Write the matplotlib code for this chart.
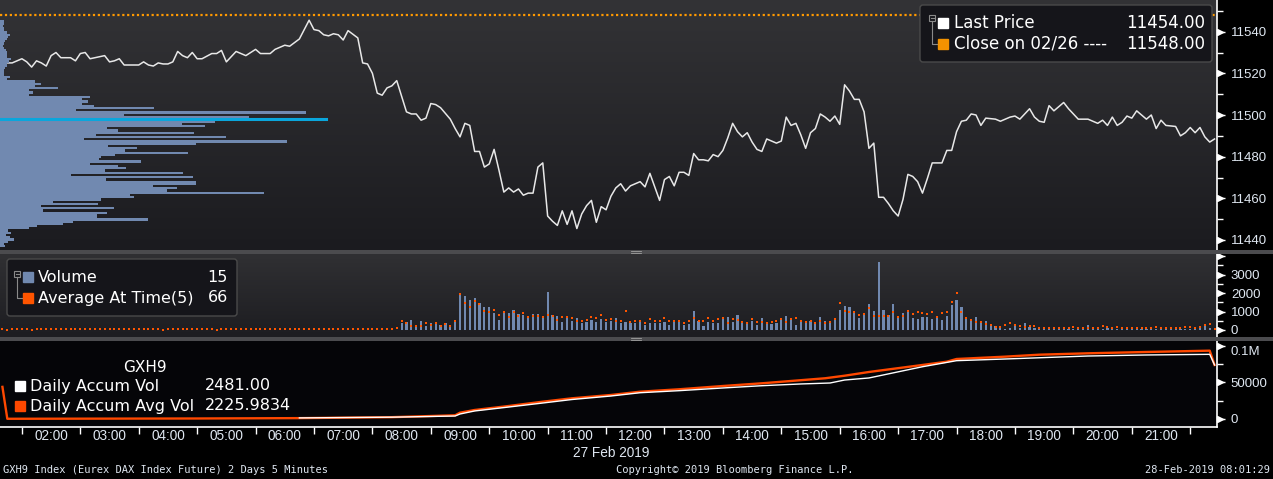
import numpy as np
import matplotlib
matplotlib.use('Agg')
import matplotlib.pyplot as plt
import matplotlib.transforms as mtransforms
from matplotlib.colors import LinearSegmentedColormap
from matplotlib.patches import FancyBboxPatch, Rectangle
from matplotlib.lines import Line2D

W, H = 1273, 479
NARROW = ['Liberation Sans', 'DejaVu Sans']

# 5 minute bars, bar 0 = 01:10 (27 Feb 2019), 250 bars to 21:55
start_min = 70
n_bars = 250

price_bar = [0, 1, 2, 4, 5, 6, 7, 8, 9, 10, 11, 12, 14, 15, 16, 17, 18, 19, 21, 22,
             23, 24, 25, 28, 29, 30, 31, 32, 33, 34, 35, 36, 37, 38, 39, 40, 41, 43, 44, 45,
             46, 48, 49, 50, 52, 53, 55, 56, 58, 59, 61, 63, 64, 65, 66, 67, 68, 69, 70, 71,
             73, 74, 75, 76, 77, 78, 79, 80, 81, 83, 84, 85, 86, 87, 88, 89, 90, 92, 93, 94,
             95, 96, 97, 98, 99, 100, 101, 102, 103, 104, 105, 106, 107, 108, 109, 110, 111, 112, 113, 114,
             115, 116, 117, 118, 119, 120, 121, 122, 123, 124, 125, 126, 127, 128, 129, 130, 131, 132, 133, 134,
             135, 136, 137, 138, 139, 140, 141, 142, 143, 144, 145, 146, 147, 148, 149, 150, 151, 152, 153, 154,
             155, 156, 157, 158, 159, 160, 161, 162, 163, 164, 165, 166, 167, 168, 169, 170, 171, 172, 173, 174,
             175, 176, 177, 178, 179, 180, 181, 182, 183, 184, 185, 186, 187, 188, 189, 190, 191, 193, 194, 195,
             196, 197, 198, 199, 200, 201, 202, 204, 205, 207, 208, 209, 211, 212, 213, 214, 215, 216, 218, 219,
             220, 221, 222, 223, 224, 225, 226, 227, 228, 229, 230, 231, 232, 233, 234, 235, 236, 237, 238, 239,
             241, 242, 243, 244, 245, 246, 247, 248, 249]
price_val = [11529, 11525, 11525, 11527, 11525.5, 11523, 11526, 11525, 11523.5, 11528.5,
             11530, 11527.5, 11527.5, 11526, 11529.5, 11530, 11527, 11527.5, 11528.5, 11525.5,
             11526, 11527, 11524, 11524, 11525.5, 11524, 11523.5, 11525, 11524.5, 11524.5,
             11525.5, 11530.5, 11528.5, 11527.5, 11530, 11527, 11527, 11529.5, 11529.5, 11531,
             11525.5, 11530.5, 11529.5, 11528.5, 11531.5, 11529.5, 11529.5, 11531.5, 11533.5, 11533,
             11536.5, 11545.5, 11541, 11540.5, 11538.5, 11538, 11539, 11538.5, 11536, 11540.5,
             11537, 11525, 11524.5, 11520, 11510.5, 11509.5, 11513, 11514, 11516.5, 11501.5,
             11500.5, 11500.5, 11497.5, 11498.5, 11505.5, 11505, 11503.5, 11498, 11493.5, 11489.5,
             11496, 11495, 11482.5, 11482.5, 11475, 11476.5, 11483.5, 11473.5, 11463, 11465,
             11463, 11464.5, 11461.5, 11462.5, 11462.5, 11475, 11477, 11451.5, 11449, 11447,
             11454, 11447.5, 11454, 11445.5, 11452.5, 11456.5, 11459, 11448.5, 11456, 11454.5,
             11461, 11465, 11467, 11463.5, 11466, 11467, 11468, 11465.5, 11472, 11465.5,
             11459, 11469, 11470.5, 11466, 11472.5, 11472.5, 11471, 11481.5, 11478.5, 11478.5,
             11478, 11481, 11480, 11483, 11489, 11496, 11492, 11489.5, 11491.5, 11487,
             11483.5, 11482.5, 11488.5, 11487.5, 11486.5, 11487.5, 11499, 11495, 11496, 11490.5,
             11484, 11491.5, 11493.5, 11500.5, 11499, 11497, 11499.5, 11495.5, 11514.5, 11511.5,
             11507.5, 11507.5, 11501.5, 11484, 11486.5, 11460.5, 11460.5, 11457.5, 11454, 11451.5,
             11459.5, 11471.5, 11470.5, 11468, 11462.5, 11469.5, 11477, 11477, 11483, 11483,
             11492, 11497, 11497.5, 11500.5, 11500, 11495, 11498.5, 11498, 11497, 11499,
             11499.5, 11498, 11503, 11499, 11497, 11496.5, 11504.5, 11502, 11506, 11503,
             11500.5, 11498, 11498, 11498, 11497, 11496, 11497.5, 11495, 11499, 11495,
             11496.5, 11499.5, 11498.5, 11502, 11500, 11498, 11500, 11493.5, 11497.5, 11495,
             11494.5, 11490, 11491.5, 11494, 11491.5, 11494, 11489.5, 11487, 11488.5]
close_prev = 11548.0
last_price = 11454.0

# volume at price profile, top row to bottom row
prof_hi, prof_lo = 11545.5, 11436.5
prof_vol = [12, 12, 10, 12, 12, 22, 30, 25, 20, 15, 12, 10, 12, 18, 22, 22, 20, 32, 27, 22,
            20, 15, 12, 12, 12, 30, 20,
            105, 122, 105, 173, 87, 98, 87, 270, 245, 263, 245, 282, 461, 228, 917, 372, 748, 748,
            645, 546, 614, 321, 353, 581, 288, 677, 252, 860, 587, 324, 410, 375, 563, 345, 303, 297,
            422, 270, 353, 377, 315, 548, 213, 578, 318, 587, 587, 459, 530, 500, 791, 390, 401, 303,
            159, 293, 123, 341, 129, 320, 290, 291, 443, 218, 189, 111, 87, 24, 33, 18, 30, 43, 25,
            12, 15]
poc_price = 11498.0
poc_len = 977

# volume bars start at 07:55 (bar 82)
vol_first_bar = 82
volume = [400, 450, 540, 270, 490, 220, 400, 360, 270, 400,
          270, 540, 1980, 1840, 1620, 1750, 1480, 1260, 1220, 900,
          540, 940, 940, 1080, 860, 810, 630, 860, 850, 720,
          2050, 810, 760, 450, 630, 500, 630, 400, 450, 540,
          450, 580, 450, 500, 630, 360, 450, 360, 360, 450,
          270, 400, 360, 400, 450, 270, 500, 500, 270, 320,
          1030, 500, 220, 450, 400, 400, 630, 720, 450, 810,
          490, 400, 500, 270, 630, 450, 320, 360, 580, 760,
          580, 270, 540, 500, 500, 360, 720, 500, 400, 580,
          1080, 1300, 1220, 940, 630, 900, 1400, 1030, 3670, 1080,
          810, 1400, 760, 900, 1080, 630, 580, 680, 720, 580,
          760, 540, 760, 1350, 1620, 1260, 670, 540, 680, 450,
          490, 220, 220, 130, 70, 130, 220, 130, 360, 180,
          90, 70, 70, 180, 70, 70, 180, 70, 70, 70,
          70, 250, 70, 70, 70, 130, 70, 70, 130, 70,
          70, 70, 70, 70, 130, 70, 70, 70, 70, 130,
          70, 70, 70, 70, 130, 220, 130, 15]
avg_at_time = [40, 20, 50, 30, 30, 40, 20, 40, 30, 30,
               50, 40, 30, 40, 50, 50, 70, 40, 30, 50,
               40, 40, 30, 40, 30, 30, 30, 40, 50, 40,
               50, 40, 30, 20, 40, 30, 40, 30, 30, 50,
               40, 30, 40, 30, 20, 30, 30, 30, 30, 30,
               30, 30, 30, 30, 30, 30, 40, 40, 30, 40,
               40, 30, 40, 30, 30, 40, 40, 30, 40, 30,
               40, 50, 40, 60, 40, 50, 50, 60, 60, 70,
               80, 90,
               500, 360, 220, 220, 220, 360, 270, 360, 220, 320,
               220, 500, 1940, 1440, 1220, 1580, 1390, 1040, 970, 1080,
               790, 970, 720, 970, 760, 900, 680, 760, 770, 720,
               810, 770, 540, 680, 680, 630, 500, 500, 540, 720,
               630, 810, 540, 580, 490, 490, 1030, 450, 500, 500,
               400, 580, 490, 490, 630, 500, 500, 500, 360, 490,
               630, 500, 500, 630, 490, 580, 630, 360, 580, 540,
               450, 360, 580, 450, 450, 400, 450, 490, 580, 450,
               580, 630, 500, 450, 500, 360, 500, 400, 450, 580,
               1480, 1040, 970, 970, 810, 860, 1170, 760, 760, 760,
               760, 970, 720, 760, 1040, 850, 970, 940, 850, 950,
               720, 940, 970, 1530, 2020, 970, 630, 540, 450, 450,
               320, 270, 180, 180, 270, 400, 270, 220, 180, 230,
               220, 130, 130, 130, 90, 130, 90, 130, 180, 130,
               130, 130, 130, 130, 220, 180, 130, 180, 130, 130,
               130, 130, 90, 130, 130, 180, 130, 90, 90, 90,
               90, 180, 180, 90, 180, 250, 320, 66]

accum_bar = [61, 80, 93, 94, 97, 104, 111, 117, 125, 131, 139, 148, 156, 164, 170, 173,
             178, 189, 196, 206, 223, 235, 248, 249]
accum_vol = [1500, 2500, 4100, 6850, 11000, 16400, 21900, 26700, 31500, 36000, 38800, 42500,
             45600, 48000, 49300, 53400, 56200, 71600, 79900, 82200, 86300, 87700, 88600, 74000]
accum_avg_bar = [0, 1, 40, 61, 80, 93, 94, 97, 104, 111, 117, 125, 131, 139, 148, 156, 169,
                 173, 178, 189, 194, 196, 206, 213, 223, 235, 248, 249]
accum_avg = [44000, 300, 700, 1200, 2500, 5070, 8630, 12330, 17800, 23700, 28360, 32900,
             37400, 40700, 45200, 48900, 55800, 59300, 64400, 74000, 78500, 82200, 85400,
             88100, 90000, 91800, 93600, 74000]

hours = list(range(2, 22))

C_TICK = '#dfe7f1'
C_BAR = '#7189b0'
C_RED = '#ff5500'

fig = plt.figure(figsize=(W / 100, H / 100), dpi=100, facecolor='black')
T = mtransforms.Affine2D().scale(1, -1).translate(0, H)  # pixel coords, top-left origin


def pax(x0, y0, x1, y1):
    return fig.add_axes([x0 / W, 1 - y1 / H, (x1 - x0) / W, (y1 - y0) / H])


def gradient(ax, top, bottom):
    cmap = LinearSegmentedColormap.from_list('bg', [top, bottom])
    ax.imshow(np.linspace(0, 1, 256).reshape(-1, 1), cmap=cmap, aspect='auto',
              extent=[0, 1, 0, 1], transform=ax.transAxes, origin='upper', zorder=0)


def style_y(ax, major, labels, minor, size=9.5):
    ax.yaxis.tick_right()
    ax.set_yticks(major)
    ax.set_yticklabels(labels, family=NARROW, fontsize=size, color=C_TICK)
    ax.set_yticks(minor, minor=True)
    ax.tick_params(axis='y', which='major', length=6, width=1, color='white', pad=4)
    ax.tick_params(axis='y', which='minor', length=4, width=1, color='white')
    tr = mtransforms.blended_transform_factory(ax.transAxes, ax.transData)
    ax.plot([1.0025] * len(major), major, ls='none', marker='>', ms=4.5, color='white',
            transform=tr, clip_on=False, zorder=10)
    for s in ['top', 'left', 'bottom']:
        ax.spines[s].set_visible(False)
    ax.spines['right'].set_color('white')
    ax.spines['right'].set_linewidth(1.2)


# ---- price panel
ax_p = pax(0, 0, 1217, 250)
gradient(ax_p, '#333336', '#1b1b1f')
ax_p.plot(price_bar, price_val, color='#e8e8e8', lw=1.1, zorder=5)
ax_p.axhline(close_prev, color='#ff9900', lw=1.6, ls=(0, (1, 1.2)), zorder=4)
ax_p.set_xlim(-0.5, n_bars - 0.5)
ax_p.set_ylim(11435.2, 11555.2)
style_y(ax_p, [11440, 11460, 11480, 11500, 11520, 11540],
        ['11440', '11460', '11480', '11500', '11520', '11540'],
        [11450, 11470, 11490, 11510, 11530, 11550])
ax_p.tick_params(axis='x', which='both', bottom=False, labelbottom=False)

ax_prof = ax_p.twiny()
step = (prof_hi - prof_lo) / len(prof_vol)
centers = prof_hi - step * (np.arange(len(prof_vol)) + 0.5)
ax_prof.barh(centers, prof_vol, height=step, color=C_BAR, lw=0, zorder=2)
ax_prof.plot([0, poc_len], [poc_price, poc_price], color='#0aa6dc', lw=2.2, zorder=3)
ax_prof.set_xlim(0, 1217 * 3)
ax_prof.set_ylim(11435.2, 11555.2)
ax_prof.axis('off')

# ---- volume panel
ax_v = pax(0, 254, 1217, 337)
gradient(ax_v, '#303033', '#1d1d21')
vol_x = np.arange(vol_first_bar, vol_first_bar + len(volume))
ax_v.bar(vol_x, volume, width=0.45, color=C_BAR, lw=0, zorder=3)
ax_v.plot(np.arange(len(avg_at_time)), avg_at_time, ls='none', marker='s', ms=2.0,
          mew=0, color=C_RED, zorder=4)
ax_v.set_xlim(-0.5, n_bars - 0.5)
ax_v.set_ylim(-380, 4120)
style_y(ax_v, [0, 1000, 2000, 3000, 4000], ['0', '1000', '2000', '3000', ''],
        [500, 1500, 2500, 3500])
ax_v.tick_params(axis='x', which='both', bottom=False, labelbottom=False)

# ---- accumulated volume panel
ax_a = pax(0, 341, 1217, 427)
ax_a.set_facecolor('#050508')
ax_a.plot(accum_avg_bar, accum_avg, color='#ff4800', lw=1.7, zorder=3)
ax_a.plot(accum_bar, accum_vol, color='white', lw=1.0, zorder=4)
ax_a.set_xlim(-0.5, n_bars - 0.5)
ax_a.set_ylim(-10960, 106850)
style_y(ax_a, [0, 50000, 100000], ['0', '50000', '0.1M'], [25000, 75000])
ax_a.yaxis.get_major_ticks()[-1].label2.set_verticalalignment('top')
ax_a.spines['bottom'].set_visible(True)
ax_a.spines['bottom'].set_color('white')
ax_a.spines['bottom'].set_linewidth(1.2)
hour_bar = [(h * 60 - start_min) / 5 for h in hours]
ax_a.set_xticks(hour_bar)
ax_a.set_xticklabels(['%02d:00' % h for h in hours], family=NARROW, fontsize=9.8, color=C_TICK)
ax_a.set_xticks([b - 6 for b in hour_bar] + [hour_bar[-1] + 6], minor=True)
ax_a.tick_params(axis='x', which='major', length=0, pad=1.5)
ax_a.tick_params(axis='x', which='minor', length=5, width=1, color='white')

# ---- separators
for y0 in (250, 337):
    fig.add_artist(Rectangle((0, y0), W, 4, transform=T, color='#4b4b4e', lw=0))
    for dy in (1.2, 2.8):
        fig.add_artist(Line2D([631, 641], [y0 + dy, y0 + dy], transform=T, color='#a0a0a0', lw=0.6))


def box(x0, y0, x1, y1):
    fig.add_artist(FancyBboxPatch((x0, y0), x1 - x0, y1 - y0, boxstyle='round,pad=0,rounding_size=3',
                                  transform=T, fc='#15151a', ec='#4a4a4a', lw=1, zorder=20))


def square(x, y, c):
    fig.add_artist(Rectangle((x, y - 5), 10, 10, transform=T, color=c, zorder=21))


def tree(x, y1, y2):
    fig.add_artist(Rectangle((x - 3, y1 - 3), 6, 6, transform=T, fc='none', ec='#8a8a8a', lw=0.8, zorder=21))
    fig.add_artist(Line2D([x - 1.5, x + 1.5], [y1, y1], transform=T, color='#8a8a8a', lw=0.8, zorder=21))
    fig.add_artist(Line2D([x, x, x + 5], [y1 + 3, y2, y2], transform=T, color='#8a8a8a', lw=0.8, zorder=21))


def txt(x, y, s, ha='left', size=12, family='DejaVu Sans', color='white'):
    fig.text(x, y, s, transform=T, ha=ha, va='center', fontsize=size, family=family, color=color, zorder=22)


# price legend
box(920, 5, 1212, 62)
tree(932, 18, 44)
square(938, 23, 'white')
square(938, 44, '#f39200')
txt(954, 23, 'Last Price', size=12)
txt(1205, 23, '%.2f' % last_price, ha='right', size=12)
txt(954, 44, 'Close on 02/26 ----', size=12)
txt(1205, 44, '%.2f' % close_prev, ha='right', size=12)

# volume legend
box(7, 259, 237, 316)
tree(17, 274, 298)
square(23, 277, C_BAR)
square(23, 298, C_RED)
txt(38, 277, 'Volume', size=11.5)
txt(228, 277, '%d' % volume[-1], ha='right', size=11.5)
txt(38, 298, 'Average At Time(5)', size=11.5)
txt(228, 298, '%d' % avg_at_time[-1], ha='right', size=11.5)

# accum legend
txt(145, 367, 'GXH9', ha='center', size=11)
square(15, 386, 'white')
square(15, 406, '#ff4800')
txt(30, 386, 'Daily Accum Vol', size=11.5)
txt(205, 386, '2481.00', size=11.5)
txt(30, 406, 'Daily Accum Avg Vol', size=11.5)
txt(205, 406, '2225.9834', size=11.5)

# footer
txt(611, 453, '27 Feb 2019', ha='center', size=9.8, family=NARROW, color=C_TICK)
txt(3, 470, 'GXH9 Index (Eurex DAX Index Future) 2 Days 5 Minutes', size=7.5, family='DejaVu Sans Mono', color=C_TICK)
txt(735, 470, 'Copyright\u00a9 2019 Bloomberg Finance L.P.', ha='center', size=7.5, family='DejaVu Sans Mono', color=C_TICK)
txt(1270, 470, '28-Feb-2019 08:01:29', ha='right', size=7.5, family='DejaVu Sans Mono', color=C_TICK)

fig.savefig('out.png', dpi=100, facecolor='black')
